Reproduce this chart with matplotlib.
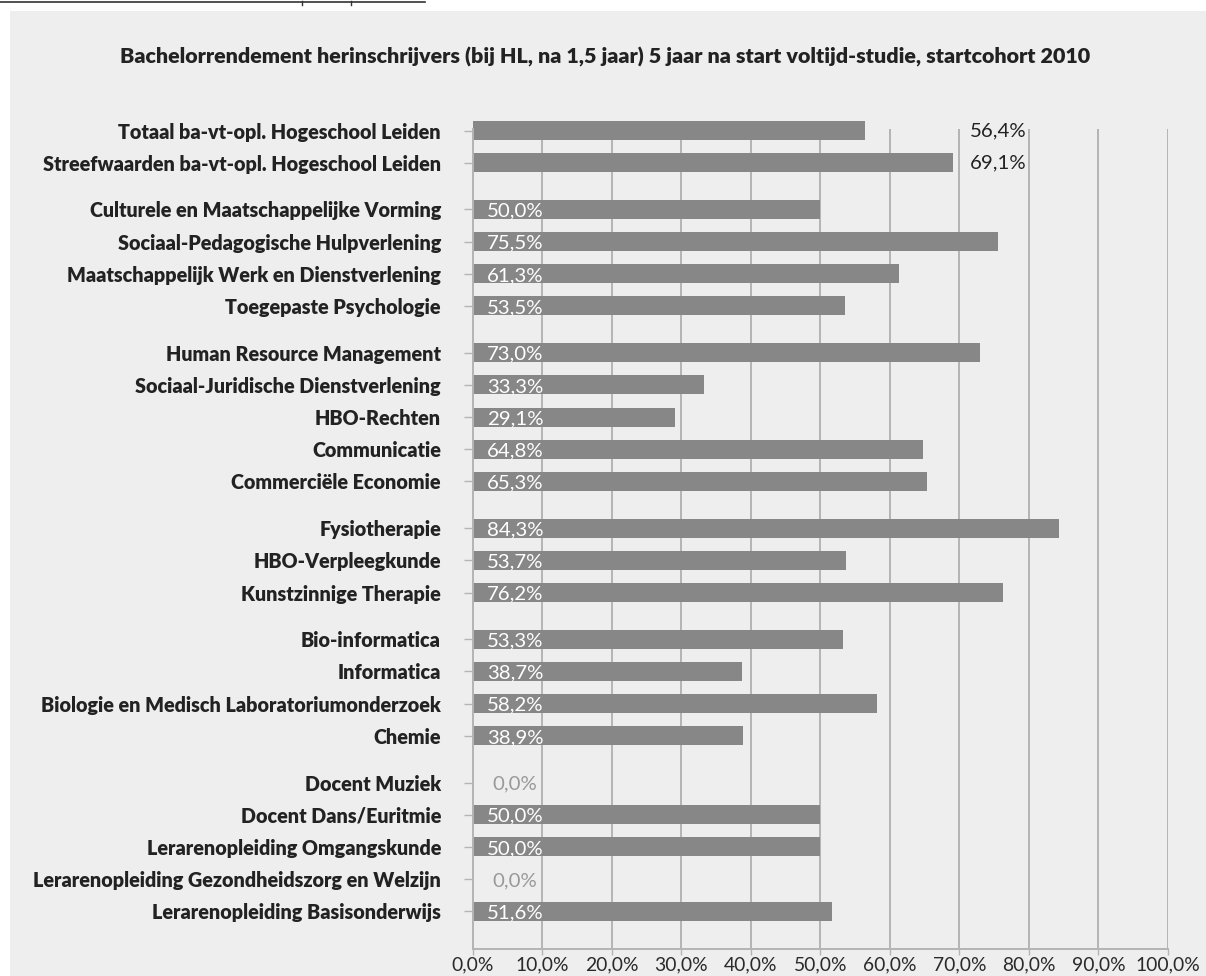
import numpy as np
import matplotlib
matplotlib.use("Agg")
import matplotlib.pyplot as plt
from matplotlib.lines import Line2D
from matplotlib.patches import Rectangle

# ---------------- data ----------------
title = "Bachelorrendement herinschrijvers (bij HL, na 1,5 jaar) 5 jaar na start voltijd-studie, startcohort 2010"
categories = [
    "Totaal ba-vt-opl. Hogeschool Leiden",
    "Streefwaarden ba-vt-opl. Hogeschool Leiden",
    "Culturele en Maatschappelijke Vorming",
    "Sociaal-Pedagogische Hulpverlening",
    "Maatschappelijk Werk en Dienstverlening",
    "Toegepaste Psychologie",
    "Human Resource Management",
    "Sociaal-Juridische Dienstverlening",
    "HBO-Rechten",
    "Communicatie",
    "Commerciële Economie",
    "Fysiotherapie",
    "HBO-Verpleegkunde",
    "Kunstzinnige Therapie",
    "Bio-informatica",
    "Informatica",
    "Biologie en Medisch Laboratoriumonderzoek",
    "Chemie",
    "Docent Muziek",
    "Docent Dans/Euritmie",
    "Lerarenopleiding Omgangskunde",
    "Lerarenopleiding Gezondheidszorg en Welzijn",
    "Lerarenopleiding Basisonderwijs",
]
values = [56.4, 69.1, 50.0, 75.5, 61.3, 53.5, 73.0, 33.3, 29.1, 64.8, 65.3,
          84.3, 53.7, 76.2, 53.3, 38.7, 58.2, 38.9, 0.0, 50.0, 50.0, 0.0, 51.6]
group_sizes = [2, 4, 5, 3, 4, 5]
xticks = list(range(0, 101, 10))
xtick_labels = [f"{t},0%" for t in xticks]

# ---------------- style ----------------
W, H = 1206, 976
BG = "#eeeeee"
BAR = "#878787"
GRID = "#b4b4b4"
TXT = "#222222"
FONT = ["Lato", "DejaVu Sans"]

fig = plt.figure(figsize=(W / 100, H / 100), dpi=100)
fig.patch.set_facecolor("white")
fig.patches.append(Rectangle((10 / W, 0), (W - 10) / W, (H - 11) / H,
                             transform=fig.transFigure, facecolor=BG,
                             edgecolor="none", zorder=-10))
# cut-off header line at the very top
fig.lines.append(Line2D([0, 425 / W], [1 - 1.5 / H] * 2, transform=fig.transFigure,
                        color="#333333", lw=1.2))
for xm in (302, 351):
    fig.lines.append(Line2D([xm / W] * 2, [1 - 1 / H, 1 - 5 / H],
                            transform=fig.transFigure, color="#333333", lw=1.0))

x0, x1 = 472.9, 1168.0
ytop, ybot = 129.3, 949.0
ax = fig.add_axes([x0 / W, (H - ybot) / H, (x1 - x0) / W, (ybot - ytop) / H])
ax.set_facecolor("none")
ax.set_zorder(5)

# y positions: one row per category, half-row gap between groups
pos = []
y = 0.0
for n in group_sizes:
    for _ in range(n):
        pos.append(y)
        y += 1.0
    y += 0.45
row_px = (911.3 - 130.5) / pos[-1]
ax.set_ylim((ybot - 130.5) / row_px, (ytop - 130.5) / row_px)
ax.set_xlim(0, 100)

ax.barh(pos, values, height=19 / row_px, color=BAR, zorder=2, clip_on=False)

ax.set_xticks(xticks)
ax.set_xticklabels(xtick_labels)
ax.set_yticks(pos)
ax.set_yticklabels(categories)
ax.xaxis.grid(True, color=GRID, lw=1.4)
ax.set_axisbelow(True)
for s in ("top", "right"):
    ax.spines[s].set_visible(False)
for s in ("left", "bottom"):
    ax.spines[s].set_color(GRID)
    ax.spines[s].set_linewidth(1.4)
ax.tick_params(axis="y", direction="out", length=6.5, width=1.0, color=GRID,
               pad=16.5, labelcolor=TXT)
ax.tick_params(axis="x", direction="out", length=4.3, width=1.0, color=GRID,
               pad=1.0, labelcolor="#2a2a2a")
for t in ax.get_yticklabels():
    t.set_fontfamily(FONT)
    t.set_fontweight("heavy")
    t.set_fontsize(14)
for t in ax.get_xticklabels():
    t.set_fontfamily(FONT)
    t.set_fontsize(13)

val_texts = []
for i, (p, v) in enumerate(zip(pos, values)):
    lab = f"{v:.1f}".replace(".", ",") + "%"
    if i < 2:
        t = ax.text(75.6, p, lab, color=TXT, ha="center", va="center")
    elif v == 0:
        t = ax.text(6.05, p + 0.05, lab, color="#999999", ha="center", va="center")
    else:
        t = ax.text(6.05, p + 0.05, lab, color="white", ha="center", va="center")
    t.set_fontfamily(FONT)
    t.set_fontsize(13)
    t.set_zorder(3)
    val_texts.append(t)

ttl = fig.text(605.5 / W, 1 - 57 / H, title, ha="center", va="center",
               fontweight="heavy", color=TXT, fontfamily=FONT, fontsize=15)

# ---- fit font sizes to measured widths ----
fig.canvas.draw()
r = fig.canvas.get_renderer()

def scale_group(texts, ref, target):
    w = ref.get_window_extent(r).width
    f = target / w
    for t in texts:
        t.set_fontsize(t.get_fontsize() * f)

ylabs = list(ax.get_yticklabels())
scale_group(ylabs, ylabs[16], 401)
xlabs = list(ax.get_xticklabels())
scale_group(xlabs, xlabs[-1], 64)
scale_group(val_texts, val_texts[2], 56)
scale_group([ttl], ttl, 975)

fig.savefig("out.png", dpi=100, facecolor="white")
